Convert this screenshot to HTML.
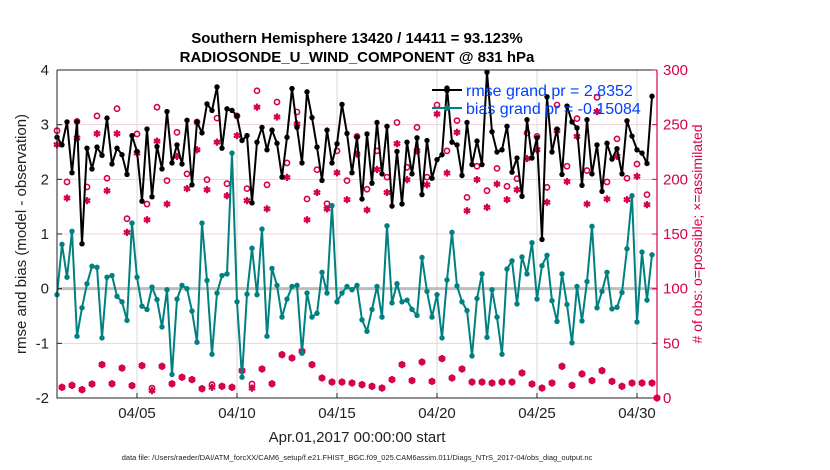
<!DOCTYPE html>
<html><head><meta charset="utf-8"><style>
html,body{margin:0;padding:0;background:#fff;}
svg{display:block;font-family:"Liberation Sans",Arial,sans-serif;}
</style></head><body>
<svg id="chart" width="830" height="470" viewBox="0 0 830 470">
<text x="357" y="43" text-anchor="middle" font-size="15" font-weight="bold">Southern Hemisphere 13420 / 14411 = 93.123%</text>
<text x="357" y="62" text-anchor="middle" font-size="15" font-weight="bold">RADIOSONDE_U_WIND_COMPONENT @ 831 hPa</text>
<g id="grid"></g>
<g id="marks"></g>
<g id="axes"></g>
<text x="357" y="442" text-anchor="middle" font-size="15" fill="#222">Apr.01,2017 00:00:00 start</text>
<text transform="translate(26,234) rotate(-90)" text-anchor="middle" font-size="15" fill="#222">rmse and bias (model - observation)</text>
<text transform="translate(702,234) rotate(-90)" text-anchor="middle" font-size="14" fill="#d6004f"># of obs: o=possible; ×=assimilated</text>
<text x="357" y="460" text-anchor="middle" font-size="7.5" fill="#222">data file: /Users/raeder/DAI/ATM_forcXX/CAM6_setup/f.e21.FHIST_BGC.f09_025.CAM6assim.011/Diags_NTrS_2017-04/obs_diag_output.nc</text>
<g>
 <g>
  <line x1="432" y1="90" x2="462" y2="90" stroke="#000" stroke-width="2"/>
  <circle cx="447" cy="90" r="3" fill="#000"/>
  <text x="466" y="96" font-size="16" fill="#0040ff">rmse grand pr = 2.8352</text>
 </g>
 <g>
  <line x1="432" y1="108" x2="462" y2="108" stroke="#008080" stroke-width="2"/>
  <circle cx="447" cy="108" r="3" fill="#008080"/>
  <text x="466" y="114" font-size="16" fill="#0040ff">bias grand pr = -0.15084</text>
 </g>
</g>
</svg>
<script>
const rmse = [2.77,2.63,3.05,2.12,3.05,0.82,2.57,2.19,2.59,2.44,3.12,2.28,2.57,2.45,2.09,2.80,2.51,1.60,2.92,1.68,2.60,2.19,3.24,2.30,2.63,2.28,3.08,1.90,3.05,2.85,
3.38,3.26,3.69,2.57,3.29,3.26,3.16,2.71,2.80,1.57,2.68,2.95,2.54,2.90,2.66,2.04,2.77,3.66,2.95,2.30,3.60,3.13,2.59,1.98,2.90,2.30,2.65,3.37,2.84,
2.12,2.77,1.64,2.83,1.93,3.04,2.10,2.97,1.51,2.51,1.55,2.68,2.10,2.76,1.72,2.71,2.02,2.36,2.45,3.67,2.68,2.63,2.07,3.04,2.27,2.70,2.27,3.96,2.87,
2.50,2.54,2.97,2.13,2.39,1.69,3.09,2.39,2.76,0.90,3.51,2.50,2.92,2.09,3.34,3.05,2.94,1.89,3.09,2.10,2.63,1.78,2.66,2.37,2.56,2.10,3.07,2.79,2.54,2.48,2.29,3.52,null];
const bias = [-0.11,0.81,0.21,1.05,-0.87,-0.35,0.09,0.41,0.39,-0.90,0.21,0.24,-0.14,-0.24,-0.58,1.20,0.21,-0.32,-0.38,0.03,-0.20,-0.70,-0.02,-1.57,-0.19,0.06,0.00,-0.41,-0.98,1.20,
0.15,-1.20,-0.08,0.24,0.27,2.48,-0.24,-1.62,-0.10,0.74,-0.11,1.09,-0.87,0.37,0.06,-0.52,-0.19,0.04,0.06,-1.18,-0.08,-0.52,-0.45,0.30,-0.08,1.52,-0.24,-0.08,0.04,
-0.02,0.06,-0.57,-0.78,-0.38,0.04,-0.52,1.15,-0.26,0.09,-0.24,-0.21,-0.38,-0.49,0.57,-0.05,-0.52,-0.11,-0.90,0.16,1.03,0.05,-0.24,-0.40,-1.23,-0.18,0.27,-0.89,-0.02,
-0.52,-1.20,0.36,0.51,-0.28,0.58,0.27,0.84,-0.19,0.42,0.61,-0.22,-0.60,0.27,-0.29,-0.99,0.04,-0.59,0.13,1.14,-0.35,-0.05,0.30,-0.37,-0.34,-0.07,0.73,1.70,-0.61,0.67,-0.21,0.62,null];
const possible = [244.5,9.8,197.6,11.6,253,7.6,193,12.8,258,30.5,201,13,264.6,27.4,164,11.3,241.5,29.6,177.4,9,266,29,198.8,13,243,19,205,16.8,252.4,8.5,
199.7,12.2,256,10.7,196,9.8,258,25,191.5,12.8,281,26.5,195,13,270.7,39.6,215,36.6,261.6,42.7,182,30.5,208.8,18.3,177.7,14.6,226,14.6,198.8,
13.7,239.3,12.2,191,10.7,226,9.1,202,16.8,252,30.5,211,15.9,247.6,32.9,202,15.2,268,36,226,18.3,253.7,26.5,183.5,14.6,212,14.6,189.6,13.7,
210,14.6,193.6,14.6,200.6,22.9,242.4,12.8,239.3,9.1,192.7,13.7,268,29,212,11.6,255.5,22,208,15.9,275,25,197.6,15.2,237,10.7,201,13.7,214,13.7,186,13.7,0];
const assimilated = [231.7,9.8,182.9,11.6,237.8,7.6,180.5,12.8,241.8,30.5,189.6,13,241.8,27.4,151.5,11.3,224,29.6,163,6.7,235,29,177.4,13,221,19,191.5,16.8,227,8.5,
190.5,9.8,234,10.7,185,9.8,240,25,180.5,9,266,26.5,173,13,257,39.6,201.8,36.6,250.6,42.7,163,30.5,188,18.3,173,14.6,206,14.6,181.4,
13.7,223,12.2,172,10.7,209,9.1,188,16.8,232.6,30.5,199.7,15.9,226,32.9,195,15.2,259.8,36,205.8,18.3,243,26.5,171.3,14.6,199.7,14.6,174.4,13.7,
195.7,14.6,181.4,14.6,190.5,22.9,219,12.8,227,9.1,179,13.7,244.5,29,198,11.6,239.3,22,177.4,15.9,262,25,182,15.2,221,10.7,181.4,13.7,202.7,13.7,176.8,13.7,0];
const xTickLabels = ["04/05","04/10","04/15","04/20","04/25","04/30"];
const xTickDays = [4,9,14,19,24,29];
const yTicks = [-2,-1,0,1,2,3,4];
const yRightTicks = [0,50,100,150,200,250,300];

const NS="http://www.w3.org/2000/svg";
const X0=57,X1=657,Y0=70,Y1=398;
const xs=d=>X0+(X1-X0)*d/30;
const yL=v=>Y1-(Y1-Y0)*(v+2)/6;
const yR=v=>Y1-(Y1-Y0)*v/300;
const dayOf=i=>i*0.25;
function mk(tag,attrs,parent){const e=document.createElementNS(NS,tag);for(const k in attrs)e.setAttribute(k,attrs[k]);parent.appendChild(e);return e;}
const grid=document.getElementById('grid'),marks=document.getElementById('marks'),axes=document.getElementById('axes');

yTicks.forEach(v=>{if(v===0||v===-2||v===4)return;
 const l=mk('line',{x1:X0,x2:X1,y1:yL(v),y2:yL(v),stroke:'#f2d0dc','stroke-width':1},grid);
 
 });
xTickDays.forEach(d=>{
 const l=mk('line',{x1:xs(d),x2:xs(d),y1:Y0,y2:Y1,stroke:'#d8d8d8','stroke-width':1},grid);
 
 });
const zl=mk('line',{x1:X0,x2:X1,y1:yL(0),y2:yL(0),stroke:'#bdbdbd','stroke-width':3},grid);



function star(cx,cy,g){const s=3.6;
 [[0,-s,0,s],[-s*0.87,-s*0.5,s*0.87,s*0.5],[-s*0.87,s*0.5,s*0.87,-s*0.5]].forEach(p=>mk('line',{x1:cx+p[0],y1:cy+p[1],x2:cx+p[2],y2:cy+p[3],stroke:'#d6004f','stroke-width':2.2},g));}

const gp=mk('g',{},marks);


possible.forEach((v,i)=>{if(v==null)return;
 const c=mk('circle',{cx:xs(dayOf(i)),cy:yR(v),r:2.6,fill:'none',stroke:'#d6004f','stroke-width':1.6},gp);
 
 });
const ga=mk('g',{},marks);


assimilated.forEach((v,i)=>{if(v==null)return;
 const g=mk('g',{},ga);
 
 
 star(xs(dayOf(i)),yR(v),g);});

function series(arr,color,name){
 const g=mk('g',{},marks);
 
 
 let d='';arr.forEach((v,i)=>{if(v==null)return;d+=(d?'L':'M')+xs(dayOf(i)).toFixed(1)+','+yL(v).toFixed(1);});
 const p=mk('path',{d:d,fill:'none',stroke:color,'stroke-width':2,'stroke-linejoin':'round'},g);
 
 
 arr.forEach((v,i)=>{if(v==null)return;
  const c=mk('circle',{cx:xs(dayOf(i)),cy:yL(v),r:2.7,fill:color},g);
  
  });
}
series(bias,'#008080','bias-series');
series(rmse,'#000','rmse-series');

const box=mk('path',{d:`M${X0},${Y0}H${X1}M${X0},${Y0}V${Y1}H${X1}`,stroke:'#222','stroke-width':1,fill:'none'},axes);


const ra=mk('line',{x1:X1,x2:X1,y1:Y0,y2:Y1,stroke:'#d6004f','stroke-width':1.2},axes);


yTicks.forEach(v=>{
 mk('line',{x1:X0,x2:X0+5,y1:yL(v),y2:yL(v),stroke:'#222'},axes);
 const t=mk('text',{x:X0-8,y:yL(v)+5,'text-anchor':'end','font-size':15,fill:'#222'},axes);
 t.textContent=v;
 
 });
yRightTicks.forEach(v=>{
 mk('line',{x1:X1-5,x2:X1,y1:yR(v),y2:yR(v),stroke:'#d6004f'},axes);
 const t=mk('text',{x:X1+6,y:yR(v)+5,'font-size':15,fill:'#d6004f'},axes);
 t.textContent=v;
 
 });
xTickDays.forEach((d,k)=>{
 mk('line',{x1:xs(d),x2:xs(d),y1:Y1,y2:Y1-5,stroke:'#222'},axes);
 const t=mk('text',{x:xs(d),y:418,'text-anchor':'middle','font-size':15,fill:'#222'},axes);
 t.textContent=xTickLabels[k];
 
 });
</script>
</body></html>
